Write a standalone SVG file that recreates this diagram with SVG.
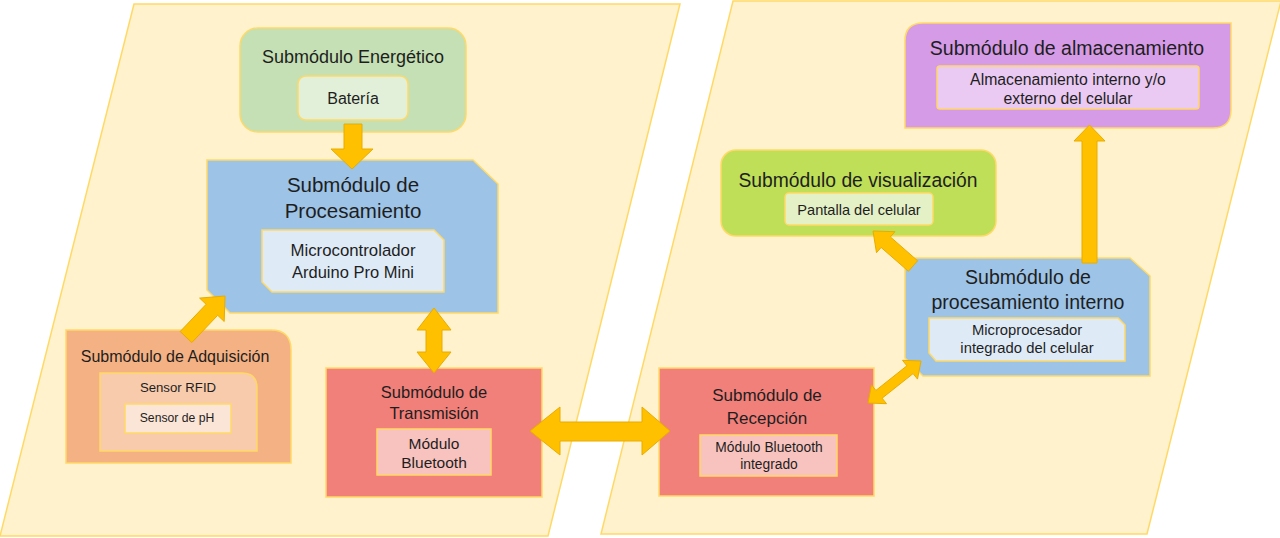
<svg xmlns="http://www.w3.org/2000/svg" width="1280" height="538" viewBox="0 0 1280 538">
<style>
.bg{fill:#fff2cc;stroke:#ffd966;stroke-width:1.5}
.nd{stroke:#ffd966;stroke-width:1.5}
.ar{fill:#ffc000;stroke:#e8ac00;stroke-width:1;stroke-linejoin:miter}
text{font-family:"Liberation Sans",Arial,sans-serif;fill:#1e1e1e;text-anchor:middle;dominant-baseline:central}
</style>
<rect x="0" y="0" width="1280" height="538" fill="#ffffff"/>
<g id="panels">
<polygon class="bg" points="134,4 680,4 548,536 0,536"/>
<polygon class="bg" points="733,1 1281,1 1147,534 601,534"/>
</g>
<g id="energetico">
<rect class="nd" x="240" y="28" width="226" height="104" rx="18" fill="#c5e0b4"/>
<rect class="nd" x="298" y="76" width="110" height="44" rx="8" fill="#e2f0d9"/>
<text x="353" y="57" font-size="18">Submódulo Energético</text>
<text x="353" y="98" font-size="16">Batería</text>
</g>
<g id="procesamiento">
<polygon class="nd" points="207,160 473,160 498,184 498,313 230,313 207,290" fill="#9dc3e6"/>
<polygon class="nd" points="262,230 434,230 444,240 444,292 272,292 262,282" fill="#deebf7"/>
<text x="353" y="184" font-size="20.5">Submódulo de</text>
<text x="353" y="210" font-size="20.5">Procesamiento</text>
<text x="353" y="250" font-size="16.8">Microcontrolador</text>
<text x="353" y="272" font-size="16.5">Arduino Pro Mini</text>
</g>
<g id="adquisicion">
<path class="nd" d="M66,330 L271,330 Q291,330 291,350 L291,463 L66,463 Z" fill="#f4b183"/>
<path class="nd" d="M100,373 L242,373 Q257,373 257,388 L257,451 L100,451 Z" fill="#f8cbad"/>
<rect class="nd" x="125" y="404" width="106" height="29" fill="#fbe5d6"/>
<text x="175" y="356" font-size="16">Submódulo de Adquisición</text>
<text x="178" y="387" font-size="13.2">Sensor RFID</text>
<text x="177" y="418" font-size="12.2">Sensor de pH</text>
</g>
<g id="transmision">
<rect class="nd" x="326" y="368" width="216" height="129" fill="#f1807a"/>
<rect class="nd" x="377" y="429" width="114" height="46" fill="#f8c3bf"/>
<text x="434" y="392" font-size="16.5">Submódulo de</text>
<text x="434" y="413" font-size="16.5">Transmisión</text>
<text x="434" y="443" font-size="15.5">Módulo</text>
<text x="434" y="462" font-size="15.5">Bluetooth</text>
</g>
<g id="recepcion">
<rect class="nd" x="659" y="368" width="215" height="128" fill="#f1807a"/>
<rect class="nd" x="700" y="435" width="137" height="41" fill="#f8c3bf"/>
<text x="767" y="395" font-size="17">Submódulo de</text>
<text x="767" y="418" font-size="17">Recepción</text>
<text x="769" y="447" font-size="13.8">Módulo Bluetooth</text>
<text x="769" y="464" font-size="13.8">integrado</text>
</g>
<g id="procesamiento-interno">
<polygon class="nd" points="905,258 1130,258 1150,276 1150,376 923,376 905,358" fill="#9dc3e6"/>
<polygon class="nd" points="929,318 1118,318 1125,325 1125,361 936,361 929,353" fill="#deebf7"/>
<text x="1028" y="277" font-size="19.5">Submódulo de</text>
<text x="1028" y="302" font-size="19.5">procesamiento interno</text>
<text x="1027" y="330" font-size="14.8">Microprocesador</text>
<text x="1027" y="348" font-size="14.8">integrado del celular</text>
</g>
<g id="visualizacion">
<rect class="nd" x="721" y="150" width="275" height="86" rx="15" fill="#bfdf58"/>
<rect class="nd" x="785" y="193" width="148" height="32" rx="4" fill="#e4f1c6"/>
<text x="858" y="180" font-size="19.3">Submódulo de visualización</text>
<text x="859" y="210" font-size="14.6">Pantalla del celular</text>
</g>
<g id="almacenamiento">
<path class="nd" d="M923,23 L1231,23 L1231,110 Q1231,128 1213,128 L905,128 L905,41 Q905,23 923,23 Z" fill="#d59be7"/>
<rect class="nd" x="937" y="66" width="262" height="43" rx="3" fill="#eacaf3"/>
<text x="1067" y="48" font-size="19.5">Submódulo de almacenamiento</text>
<text x="1068" y="79" font-size="15.8">Almacenamiento interno y/o</text>
<text x="1068" y="98" font-size="15.8">externo del celular</text>
</g>
<g id="connectors">
<polygon class="ar" points="344,124 362,124 362,149 373,149 352,169 331,149 344,149"/>
<polygon class="ar" points="180.2,331.5 206.1,304.3 199.6,298.1 225,296 224.2,321.5 217.7,315.3 191.8,342.5"/>
<polygon class="ar" points="434,308 451,330 442,330 442,352 451,352 434,373 417,352 426,352 426,330 417,330"/>
<polygon class="ar" points="530,431 560,407 560,422 642,422 642,407 670,431 642,455 642,441 560,441 560,455"/>
<polygon class="ar" points="868,403 871.5,384.9 875.9,390.4 906.9,365.8 902.5,360.3 921,361 917.5,379.1 913.1,373.6 882.1,398.2 886.5,403.7"/>
<polygon class="ar" points="908.4,271.25 881.1,247.45 876.5,252.7 873,231 895,231.7 890.4,236.95 917.6,260.75"/>
<polygon class="ar" points="1082,263 1082,141 1074,141 1089.5,125 1105,141 1097,141 1097,263"/>
</g>
</svg>
